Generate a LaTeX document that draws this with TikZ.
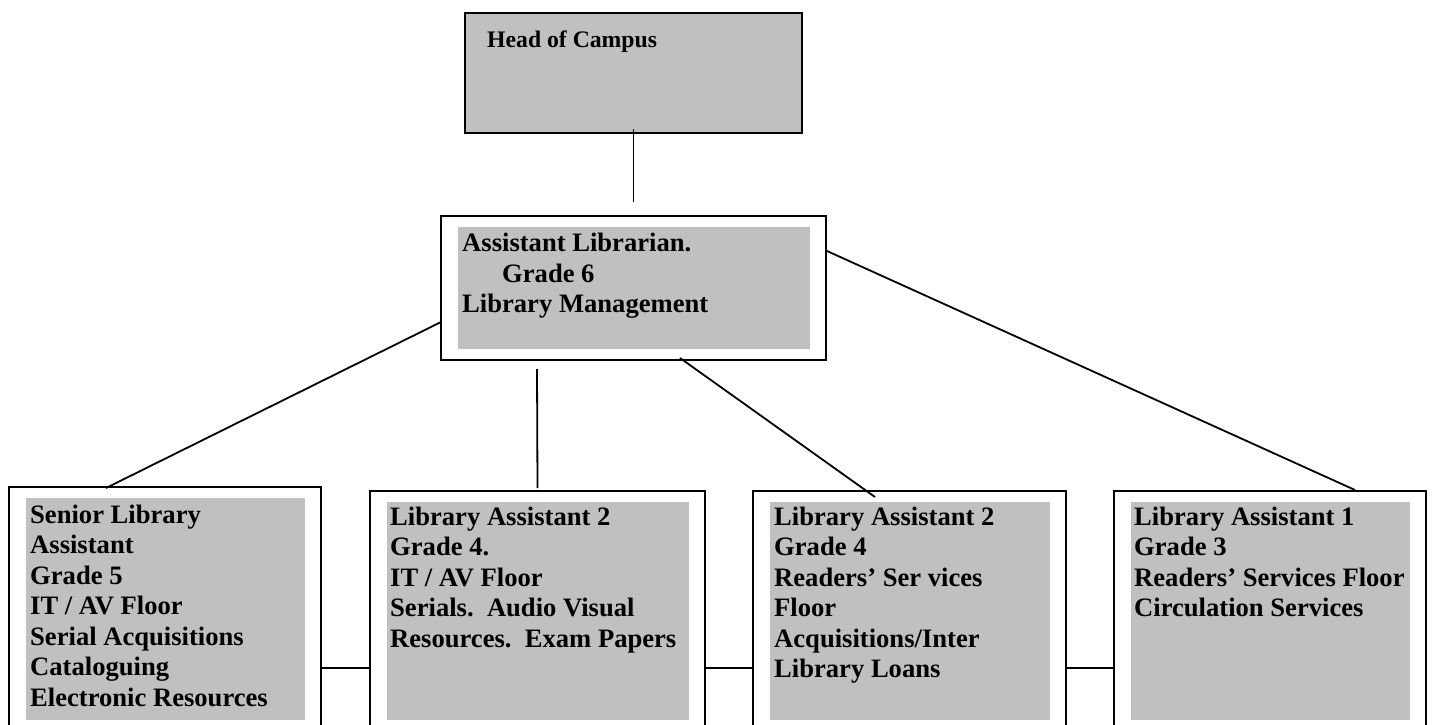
\documentclass[tikz,border=0pt]{standalone}
\usepackage{fontspec}
\setmainfont{Liberation Serif}
\usetikzlibrary{calc}
\definecolor{postgray}{HTML}{C0C0C0}
\tikzset{
  postbox/.style={draw, line width=2pt, fill=white, anchor=north west, inner sep=0pt, outer sep=0pt},
  headbox/.style={postbox, fill=postgray},
  posttext/.style={anchor=base west, align=left, inner sep=0pt, font=\fontsize{26.6}{30.5}\selectfont\bfseries},
  link/.style={line width=1.8pt}
}
% node base sits on the last line, so y is the last baseline
\newcommand{\drawpost}[6]{
  \node[postbox, minimum width=#4-#2, minimum height=#5] (#1) at (#2,#3) {};
  \fill[postgray] (#2+17,#3+11) rectangle (#4-16,#6);
}

\begin{document}
\begin{tikzpicture}[x=1pt,y=-1pt]
  \useasboundingbox (0,0) rectangle (1432,724);
  \clip (0,0) rectangle (1432,724);
  \fill[white] (0,0) rectangle (1432,724);

  \node[headbox, minimum width=337, minimum height=120] (head) at (465,13) {};
  \node[posttext, font=\fontsize{23.7}{27}\selectfont\bfseries] (head-text) at (487,47) {Head of Campus};

  \drawpost{asst}{441}{216}{826}{144}{349}
  \node[posttext] (asst-text) at (462,312.7) {Assistant Librarian.\\\hspace*{40pt}Grade 6\\Library Management};

  \drawpost{sla}{9}{487}{321}{362}{720}
  \drawpost{la2it}{370}{491}{705}{354}{720}
  \drawpost{la2rs}{753}{491}{1066}{354}{720}
  \drawpost{la1}{1114}{491}{1426}{354}{720}

  \node[posttext] (sla-text) at (30,706.3) {Senior Library\\Assistant\\Grade 5\\IT / AV Floor\\Serial Acquisitions\\Cataloguing\\Electronic Resources};
  \node[posttext] (la2it-text) at (390,647) {Library Assistant 2\\Grade 4.\\IT / AV Floor\\Serials.\ \ Audio Visual\\Resources.\ \ Exam Papers};
  \node[posttext] (la2rs-text) at (774,677.5) {Library Assistant 2\\Grade 4\\Readers’ Ser vices\\Floor\\Acquisitions/Inter\\Library Loans};
  \node[posttext] (la1-text) at (1134,616.5) {Library Assistant 1\\Grade 3\\Readers’ Services Floor\\Circulation Services};

  \draw[link] ($(head.south)+(0,-4)$) -- ($(asst.north)+(0,-14)$);
  \draw[link] ($(asst.north west)+(0,106)$) -- ($(sla.north west)+(97,1)$);
  \draw[link] ($(asst.south west)+(96,9)$) -- ($(la2it.north)+(0,-3)$);
  \draw[link] ($(asst.south west)+(239,-2)$) -- ($(la2rs.north west)+(122,6)$);
  \draw[link] ($(asst.north east)+(1,35)$) -- ($(la1.north west)+(241,-1)$);

  \draw[link] (sla.east) -- (la2it.west);
  \draw[link] (la2it.east) -- (la2rs.west);
  \draw[link] (la2rs.east) -- (la1.west);
\end{tikzpicture}
\end{document}
